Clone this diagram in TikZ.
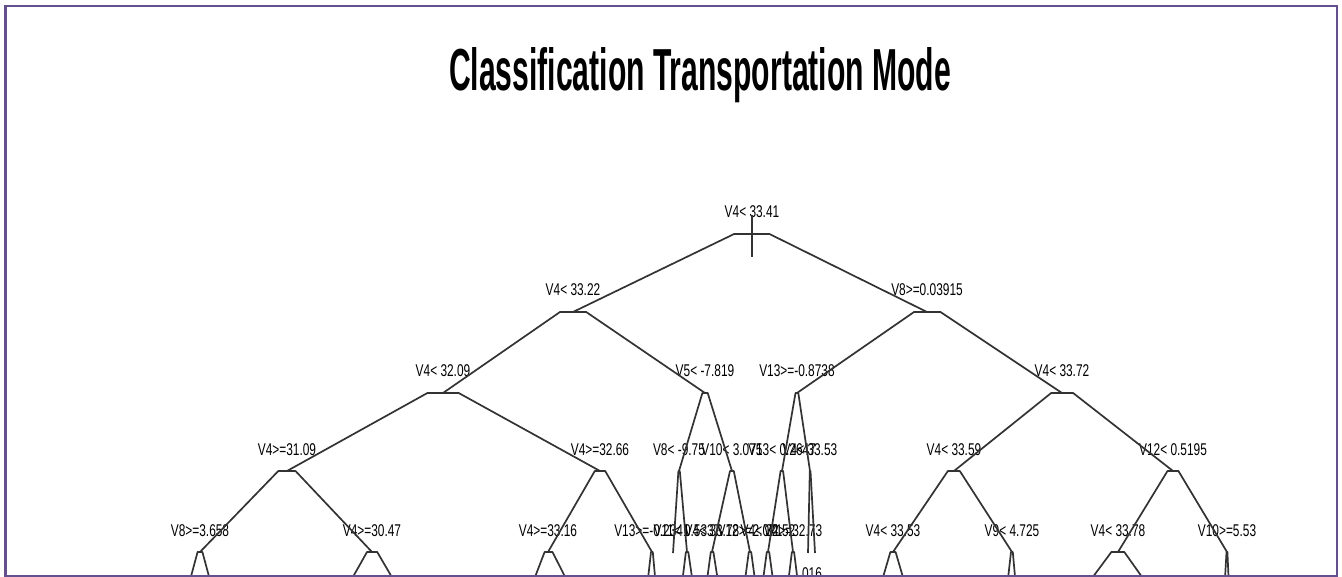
\documentclass[tikz,border=0pt]{standalone}
\usepackage{fontspec}
\setmainfont{Liberation Sans}
\usetikzlibrary{calc}
\definecolor{framecol}{RGB}{100,80,140}
\tikzset{
  branch/.style={line width=1.7pt, draw=black!80, line join=round},
  lab/.style={anchor=base, inner sep=0pt, font=\fontsize{17}{17}\selectfont},
  framebox/.style={draw=framecol, line width=2.6pt},
}
\newcommand\lbl[1]{\scalebox{0.7}[1]{#1}}
\newcommand\tn[4]{\coordinate (#1) at (#2,#3); \node[lab] (l#1) at (#2,#3-16) {\lbl{#4}};}
\newcommand\edge[2]{\draw[branch] (#1) -- ($(#1)!0.1!(#2 |- #1)$) -- (#2);}
\begin{document}
\begin{tikzpicture}[x=1pt,y=-1pt]
\fill[white] (0,0) rectangle (1342,577);
\useasboundingbox (0,0) rectangle (1342,577);
\node[anchor=base, inner sep=0pt, font=\bfseries] (title) at (700,91)
  {\resizebox{502pt}{43pt}{Classification Transportation Mode}};
\begin{scope}
\clip (6,6) rectangle (1337,575);
% level 1
\tn{n}{752}{234}{V4< 33.41}
% level 2
\tn{n1}{573}{312}{V4< 33.22}
\tn{n2}{927}{312}{V8>=0.03915}
% level 3
\tn{n11}{443}{393}{V4< 32.09}
\tn{n12}{705}{393}{V5< -7.819}
\tn{n21}{797}{393}{V13>=-0.8738}
\tn{n22}{1062}{393}{V4< 33.72}
% level 4
\tn{n111}{287}{471}{V4>=31.09}
\tn{n112}{600}{471}{V4>=32.66}
\tn{n121}{679}{471}{V8< -9.75}
\tn{n122}{732}{471}{V10< 3.075}
\tn{n211}{782}{471}{V13< 0.2647}
\tn{n212}{810}{471}{V4< 33.53}
\tn{n221}{954}{471}{V4< 33.59}
\tn{n222}{1173}{471}{V12< 0.5195}
% level 5
\tn{n1111}{200}{552}{V8>=3.658}
\tn{n1112}{372}{552}{V4>=30.47}
\tn{n1121}{548}{552}{V4>=33.16}
\tn{n1122}{652}{552}{V13>=-0.2341}
\coordinate (n1211) at (673,553);
\tn{n1212}{687}{552}{V11< 0.5337}
\tn{n1221}{712}{552}{V4< 33.78}
\tn{n1222}{750}{552}{V12>=2.071}
\tn{n2111}{768}{552}{V4< 32.52}
\tn{n2112}{793}{552}{V4>=32.73}
\coordinate (n2121) at (808,553);
\coordinate (n2122) at (815,553);
\node[lab, anchor=north] (leaf212) at (812,567) {\lbl{016}};
\tn{n2211}{893}{552}{V4< 33.53}
\tn{n2212}{1012}{552}{V9< 4.725}
\tn{n2221}{1118}{552}{V4< 33.78}
\tn{n2222}{1227}{552}{V10>=5.53}
% level 6 (below the frame)
\coordinate (n1111a) at (176,632);  \coordinate (n1111b) at (224,632);
\coordinate (n1112a) at (322,632);  \coordinate (n1112b) at (424,632);
\coordinate (n1121a) at (514,632);  \coordinate (n1121b) at (593,632);
\coordinate (n1122a) at (642,632);  \coordinate (n1122b) at (660,632);
\coordinate (n1212a) at (676,632);  \coordinate (n1212b) at (700,632);
\coordinate (n1221a) at (700,632);  \coordinate (n1221b) at (726,632);
\coordinate (n1222a) at (738,632);  \coordinate (n1222b) at (762,632);
\coordinate (n2111a) at (756,632);  \coordinate (n2111b) at (780,632);
\coordinate (n2112a) at (782,632);  \coordinate (n2112b) at (804,632);
\coordinate (n2211a) at (867,632);  \coordinate (n2211b) at (919,632);
\coordinate (n2212a) at (1002,632); \coordinate (n2212b) at (1020,632);
\coordinate (n2221a) at (1052,632); \coordinate (n2221b) at (1181,632);
\coordinate (n2222a) at (1222,632); \coordinate (n2222b) at (1231,632);
% root stub
\coordinate (rt1) at (752,215); \coordinate (rt2) at (752,257);
\draw[branch] (rt1) -- (rt2);
% edges
\edge{n}{n1} \edge{n}{n2}
\edge{n1}{n11} \edge{n1}{n12}
\edge{n2}{n21} \edge{n2}{n22}
\edge{n11}{n111} \edge{n11}{n112}
\edge{n12}{n121} \edge{n12}{n122}
\edge{n21}{n211} \edge{n21}{n212}
\edge{n22}{n221} \edge{n22}{n222}
\edge{n111}{n1111} \edge{n111}{n1112}
\edge{n112}{n1121} \edge{n112}{n1122}
\edge{n121}{n1211} \edge{n121}{n1212}
\edge{n122}{n1221} \edge{n122}{n1222}
\edge{n211}{n2111} \edge{n211}{n2112}
\edge{n212}{n2121} \edge{n212}{n2122}
\edge{n221}{n2211} \edge{n221}{n2212}
\edge{n222}{n2221} \edge{n222}{n2222}
\foreach \p in {n1111,n1112,n1121,n1122,n1212,n1221,n1222,n2111,n2112,n2211,n2212,n2221,n2222}{
  \edge{\p}{\p a} \edge{\p}{\p b}
}
\end{scope}
\draw[framebox] (5.5,6) rectangle (1337,576.5);
\end{tikzpicture}
\end{document}
